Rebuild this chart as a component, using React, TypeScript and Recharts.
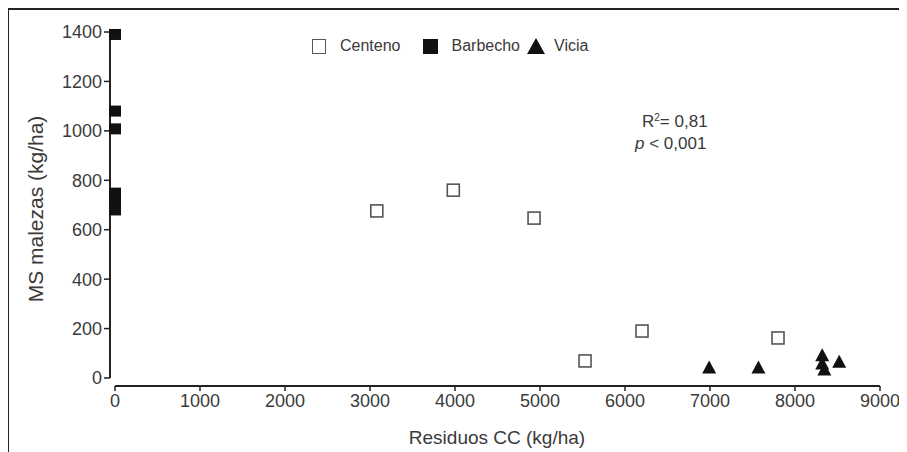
import React from "react"
import { ScatterChart, Scatter, XAxis, YAxis, ReferenceLine } from "recharts"

// Residuos CC (kg/ha) vs MS malezas (kg/ha)
const centenoX = [3080, 3980, 4930, 5530, 6200, 7800]
const centenoY = [676, 760, 647, 69, 190, 162]

const barbechoX = [0, 0, 0, 0, 0, 0, 0]
const barbechoY = [1390, 1080, 1008, 748, 725, 700, 680]

const viciaX = [6990, 7570, 8320, 8320, 8345, 8520]
const viciaY = [38, 38, 88, 55, 30, 62]

const xTicks = [0, 1000, 2000, 3000, 4000, 5000, 6000, 7000, 8000, 9000]
const yTicks = [0, 200, 400, 600, 800, 1000, 1200, 1400]

const toPoints = (xs: number[], ys: number[]) => xs.map((x, i) => ({ x, y: ys[i] }))

const centeno = toPoints(centenoX, centenoY)
const barbecho = toPoints(barbechoX, barbechoY)
const vicia = toPoints(viciaX, viciaY)

const FONT = "'Liberation Sans', Arial, sans-serif"
const INK = "#222"
const TEXT = "#3a3a3a"

const OpenSquare = (props: any) => {
  const { cx, cy } = props
  return <rect x={cx - 6} y={cy - 6} width={12} height={12} fill="#fff" stroke="#555" strokeWidth={1.6} />
}

const FilledSquare = (props: any) => {
  const { cx, cy } = props
  return <rect x={cx - 6} y={cy - 5.5} width={12} height={11} fill="#111" />
}

const Triangle = (props: any) => {
  const { cx, cy } = props
  return <path d={`M${cx},${cy - 8} L${cx + 7},${cy + 5} L${cx - 7},${cy + 5} Z`} fill="#111" />
}

// legend drawn as plain html so it doesn't push the plot area down
const LegendBox = () => (
  <div
    style={{
      position: "absolute",
      left: 304,
      top: 29,
      display: "flex",
      alignItems: "center",
      fontFamily: FONT,
      fontSize: 16,
      color: TEXT,
    }}
  >
    <span style={{ width: 12, height: 13, border: "1.6px solid #555", background: "#fff", marginRight: 14 }} />
    <span style={{ marginRight: 22 }}>Centeno</span>
    <span style={{ width: 15, height: 15, background: "#111", marginRight: 14 }} />
    <span style={{ marginRight: 6 }}>Barbecho</span>
    <svg width={20} height={18} style={{ marginRight: 8 }}>
      <path d="M10,1 L19,17 L1,17 Z" fill="#111" />
    </svg>
    <span>Vicia</span>
  </div>
)

export default function App() {
  return (
    <div style={{ position: "relative", width: 899, height: 444, background: "#fff" }}>
      <div style={{ position: "absolute", left: 0, top: 0, width: 899, height: 2, background: INK }} />
      <div style={{ position: "absolute", left: -1, top: 0, width: 2, height: 444, background: INK }} />
      <ScatterChart width={899} height={444} margin={{ top: 24, right: 27, bottom: 36, left: 42 }}>
        <XAxis
          type="number"
          dataKey="x"
          domain={[-58.8, 9000]}
          ticks={xTicks}
          axisLine={false}
          tickLine={{ stroke: INK, strokeWidth: 1.5 }}
          tickSize={5}
          tickMargin={3}
          height={30}
          tick={{ fontSize: 18, fill: TEXT, fontFamily: FONT }}
          label={{
            content: () => (
              <text x={489} y={436} textAnchor="middle" fontSize={19} fill={TEXT} fontFamily={FONT}>
                Residuos CC (kg/ha)
              </text>
            ),
          }}
        />
        <YAxis
          type="number"
          dataKey="y"
          domain={[-32.4, 1400]}
          ticks={yTicks}
          axisLine={false}
          tickLine={{ stroke: INK, strokeWidth: 1.5 }}
          tickSize={6}
          tickMargin={2}
          width={60}
          tick={{ fontSize: 18, fill: TEXT, fontFamily: FONT }}
          label={{
            content: () => (
              <text
                x={27}
                y={201}
                transform="rotate(-90 27 201)"
                textAnchor="middle"
                dominantBaseline="central"
                fontSize={21}
                fill={TEXT}
                fontFamily={FONT}
              >
                MS malezas (kg/ha)
              </text>
            ),
          }}
        />
        <ReferenceLine
          segment={[{ x: -58.8, y: 0 }, { x: -58.8, y: 1400 }]}
          stroke={INK}
          strokeWidth={2}
        />
        <ReferenceLine
          segment={[{ x: 0, y: -32.4 }, { x: 9000, y: -32.4 }]}
          stroke={INK}
          strokeWidth={2}
        />
        <Scatter name="Centeno" data={centeno} shape={<OpenSquare />} isAnimationActive={false} />
        <Scatter name="Barbecho" data={barbecho} shape={<FilledSquare />} isAnimationActive={false} />
        <Scatter name="Vicia" data={vicia} shape={<Triangle />} isAnimationActive={false} />
      </ScatterChart>
      <LegendBox />
      <div
        style={{
          position: "absolute",
          left: 627,
          top: 103,
          fontFamily: FONT,
          fontSize: 17,
          lineHeight: "22px",
          color: TEXT,
        }}
      >
        <div style={{ paddingLeft: 7 }}>
          R<sup style={{ fontSize: 10, verticalAlign: "6px", lineHeight: 0 }}>2</sup>= 0,81
        </div>
        <div>
          <i>p</i> &lt; 0,001
        </div>
      </div>
    </div>
  )
}
